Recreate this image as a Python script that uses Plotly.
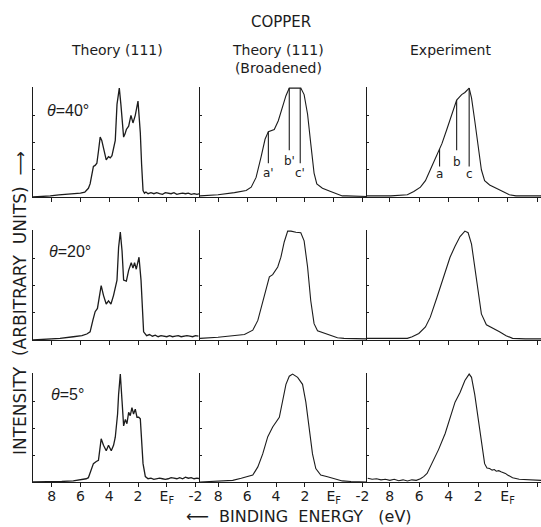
import plotly.graph_objects as go

# ---------------- data (binding energy in eV, intensity in arbitrary units) ----------------
# Row 1: theta = 40 deg
tl_energy = [9.3, 8.5, 8.1, 7.5, 7.0, 6.5, 6.0, 5.7, 5.45, 5.33, 5.10, 4.98, 4.86, 4.75, 4.63, 4.52, 4.40,
             4.21, 4.05, 3.93, 3.81, 3.70, 3.58, 3.46, 3.30, 3.19, 3.00, 2.90, 2.81, 2.65, 2.49, 2.35, 2.19,
             2.00, 1.84, 1.75, 1.65, 1.55, 1.45, 1.3, 1.1, 0.9, 0.7, 0.5, 0.3, 0.1, -0.1, -0.3, -0.5, -0.7,
             -0.9, -1.1, -1.3, -1.5, -1.7, -1.9, -2.1, -2.3]
tl_intensity = [0.0, 0.005, 0.01, 0.02, 0.025, 0.03, 0.035, 0.045, 0.08, 0.12, 0.28, 0.29, 0.31, 0.42, 0.55,
                0.52, 0.46, 0.34, 0.37, 0.36, 0.38, 0.44, 0.52, 0.85, 1.0, 0.85, 0.55, 0.58, 0.62, 0.65, 0.75,
                0.68, 0.75, 0.88, 0.59, 0.3, 0.06, 0.035, 0.045, 0.03, 0.04, 0.03, 0.04, 0.03, 0.025, 0.04,
                0.035, 0.03, 0.04, 0.025, 0.03, 0.035, 0.03, 0.035, 0.025, 0.03, 0.025, 0.03]

tm_energy = [9.27, 8.02, 6.88, 6.07, 5.72, 5.38, 5.03, 4.76, 4.53, 4.34, 4.12, 3.84, 3.54, 3.31, 3.08, 2.68,
             2.28, 2.05, 1.81, 1.59, 1.36, 1.17, 0.78, 0.21, -0.26, -0.6, -0.9, -1.5, -2.31]
tm_intensity = [0.01, 0.02, 0.04, 0.06, 0.09, 0.18, 0.37, 0.53, 0.60, 0.61, 0.62, 0.70, 0.82, 0.93, 1.0, 1.0,
                1.0, 0.94, 0.76, 0.49, 0.22, 0.12, 0.08, 0.05, 0.03, 0.01, 0.01, 0.005, 0.005]

tr_energy = [9.55, 7.93, 6.81, 6.37, 5.92, 5.58, 5.25, 4.91, 4.62, 4.46, 4.13, 3.79, 3.46, 3.12, 2.90, 2.61,
             2.45, 2.23, 2.01, 1.78, 1.56, 1.22, 0.77, 0.33, -0.12, -0.57, -1.2, -2.3]
tr_intensity = [0.01, 0.01, 0.02, 0.05, 0.09, 0.15, 0.25, 0.35, 0.44, 0.49, 0.62, 0.75, 0.89, 0.94, 0.96, 1.0,
                0.91, 0.70, 0.46, 0.25, 0.15, 0.11, 0.08, 0.05, 0.02, 0.01, 0.01, 0.01]

# Row 2: theta = 20 deg
ml_energy = [9.3, 8.5, 7.42, 6.5, 5.9, 5.56, 5.33, 5.14, 4.98, 4.82, 4.68, 4.56, 4.40, 4.21, 4.05, 3.88, 3.70,
             3.46, 3.35, 3.23, 3.11, 3.00, 2.81, 2.65, 2.47, 2.35, 2.24, 2.12, 1.93, 1.79, 1.61, 1.4, 1.2, 1.0,
             0.8, 0.6, 0.4, 0.2, 0.0, -0.2, -0.4, -0.6, -0.8, -1.0, -1.2, -1.4, -1.6, -1.8, -2.0, -2.2]
ml_intensity = [0.0, 0.005, 0.015, 0.03, 0.04, 0.055, 0.075, 0.18, 0.26, 0.29, 0.39, 0.5, 0.41, 0.33, 0.36,
                0.33, 0.41, 0.55, 0.85, 0.99, 0.82, 0.55, 0.54, 0.64, 0.71, 0.66, 0.71, 0.65, 0.76, 0.55, 0.075,
                0.04, 0.05, 0.035, 0.045, 0.03, 0.04, 0.035, 0.03, 0.04, 0.03, 0.035, 0.04, 0.03, 0.035, 0.04,
                0.035, 0.03, 0.04, 0.035]

mm_energy = [9.27, 8.02, 6.19, 5.61, 5.26, 4.92, 4.69, 4.46, 4.23, 3.88, 3.66, 3.43, 3.19, 2.96, 2.62, 2.28,
             2.05, 1.81, 1.59, 1.36, 1.12, 0.67, 0.21, -0.26, -0.72, -1.5, -2.31]
mm_intensity = [0.015, 0.025, 0.05, 0.09, 0.18, 0.36, 0.48, 0.58, 0.60, 0.67, 0.76, 0.9, 1.0, 1.0, 0.99, 0.985,
                0.91, 0.67, 0.36, 0.15, 0.085, 0.066, 0.045, 0.02, 0.015, 0.01, 0.01]

mr_energy = [9.55, 6.81, 6.48, 6.03, 5.58, 5.25, 4.80, 4.36, 3.91, 3.57, 3.23, 2.90, 2.68, 2.45, 2.23, 2.01,
             1.78, 1.44, 1.0, 0.55, 0.10, -0.34, -1.2, -2.3]
mr_intensity = [0.015, 0.015, 0.03, 0.06, 0.12, 0.21, 0.39, 0.58, 0.76, 0.86, 0.95, 1.0, 0.985, 0.88, 0.67,
                0.42, 0.24, 0.14, 0.11, 0.075, 0.04, 0.015, 0.01, 0.01]

# Row 3: theta = 5 deg
bl_energy = [9.3, 8.0, 7.3, 6.5, 6.0, 5.6, 5.45, 5.3, 5.10, 4.90, 4.75, 4.56, 4.40, 4.21, 4.05, 3.86, 3.70, 3.58,
             3.42, 3.35, 3.23, 3.11, 3.0, 2.88, 2.77, 2.65, 2.54, 2.42, 2.31, 2.19, 2.07, 1.95, 1.84, 1.65, 1.49,
             1.3, 1.1, 0.9, 0.7, 0.5, 0.3, 0.1, -0.1, -0.3, -0.5, -0.7, -0.9, -1.1, -1.3, -1.5, -1.7, -1.9,
             -2.1, -2.3]
bl_intensity = [0.0, 0.0, 0.005, 0.01, 0.02, 0.03, 0.04, 0.1, 0.17, 0.19, 0.2, 0.4, 0.34, 0.29, 0.34, 0.29,
                0.34, 0.415, 0.63, 0.81, 1.0, 0.75, 0.52, 0.58, 0.54, 0.645, 0.615, 0.69, 0.63, 0.675, 0.6, 0.6,
                0.585, 0.17, 0.05, 0.03, 0.035, 0.025, 0.03, 0.035, 0.03, 0.025, 0.03, 0.04, 0.035, 0.03, 0.04,
                0.03, 0.045, 0.035, 0.04, 0.03, 0.035, 0.03]

bm_energy = [9.27, 8.0, 7.0, 6.41, 5.61, 5.26, 4.92, 4.57, 4.23, 3.77, 3.54, 3.31, 3.08, 2.85, 2.50, 2.16, 1.93,
             1.70, 1.47, 1.24, 0.90, 0.43, -0.14, -0.6, -1.2, -2.31]
bm_intensity = [0.0, 0.005, 0.015, 0.034, 0.064, 0.14, 0.26, 0.42, 0.51, 0.60, 0.74, 0.905, 0.98, 1.0, 0.97,
                0.905, 0.74, 0.51, 0.26, 0.125, 0.064, 0.048, 0.028, 0.01, 0.005, 0.0]

br_energy = [9.5, 9.2, 8.9, 8.6, 8.3, 8.0, 7.7, 7.4, 7.1, 6.8, 6.5, 6.2, 5.92, 5.7, 5.47, 5.25, 5.03, 4.69,
             4.24, 3.79, 3.57, 3.23, 2.90, 2.61, 2.45, 2.23, 2.01, 1.78, 1.56, 1.40, 1.22, 1.05, 0.9, 0.77, 0.6,
             0.45, 0.33, 0.15, 0.0, -0.34, -0.79, -1.46, -2.3]
br_intensity = [0.035, 0.025, 0.03, 0.02, 0.025, 0.015, 0.025, 0.012, 0.02, 0.01, 0.02, 0.015, 0.03, 0.05,
                0.08, 0.14, 0.21, 0.30, 0.45, 0.66, 0.74, 0.83, 0.94, 1.0, 0.97, 0.81, 0.60, 0.355, 0.17, 0.13,
                0.125, 0.11, 0.115, 0.10, 0.105, 0.095, 0.09, 0.08, 0.065, 0.04, 0.025, 0.02, 0.015]

# Peak markers (energies, curve heights at those energies, labels)
tm_mark_energy = [4.53, 3.08, 2.32]
tm_mark_height = [0.60, 1.0, 1.0]
tm_mark_labels = ["a'", "b'", "c'"]
tr_mark_energy = [4.62, 3.46, 2.61]
tr_mark_height = [0.44, 0.89, 1.0]
tr_mark_labels = ["a", "b", "c"]

angle_labels = ["<i>θ</i>=40°", "<i>θ</i>=20°", "<i>θ</i>=5°"]
column_titles = ["Theory (111)", "Theory (111)<br>(Broadened)", "Experiment"]
tick_values = [8, 6, 4, 2, 0, -2]
tick_labels = ["8", "6", "4", "2", "E<sub>F</sub>", "-2"]

# ---------------- layout geometry ----------------
W, H = 541, 527
FONT = "DejaVu Sans"
INK = "#1c1c1c"


def fx(px):
    return px / W


def fy(py):
    return 1 - py / H


col_px = [(33, 200), (200, 367), (367, 541)]
col_range = [(9.30, -2.31), (9.27, -2.31), (9.55, -2.27)]
row_px = [(87, 197), (230, 340), (373, 482)]

panels = [
    [(tl_energy, tl_intensity), (tm_energy, tm_intensity), (tr_energy, tr_intensity)],
    [(ml_energy, ml_intensity), (mm_energy, mm_intensity), (mr_energy, mr_intensity)],
    [(bl_energy, bl_intensity), (bm_energy, bm_intensity), (br_energy, br_intensity)],
]

fig = go.Figure()
layout = {}
for r in range(3):
    for c in range(3):
        idx = r * 3 + c + 1
        xname = "x" if idx == 1 else f"x{idx}"
        yname = "y" if idx == 1 else f"y{idx}"
        xkey = "xaxis" if idx == 1 else f"xaxis{idx}"
        ykey = "yaxis" if idx == 1 else f"yaxis{idx}"
        x0, x1 = col_px[c]
        y0, y1 = row_px[r]
        layout[xkey] = dict(
            domain=[fx(x0), fx(x1)], range=list(col_range[c]), anchor=yname,
            showline=True, linecolor=INK, linewidth=1.4, mirror=False,
            ticks="outside", ticklen=4, tickwidth=1.2, tickcolor=INK,
            tickvals=tick_values, ticktext=tick_labels, ticklabelstandoff=-3,
            showticklabels=(r == 2), tickfont=dict(family=FONT, size=14, color=INK),
            showgrid=False, zeroline=False, fixedrange=True, automargin=False,
        )
        layout[ykey] = dict(
            domain=[fy(y1), fy(y0)], range=[0, 1.01], anchor=xname,
            showline=True, linecolor=INK, linewidth=1.4,
            ticks="inside", ticklen=2, tickwidth=1, tickcolor=INK,
            tickvals=[0.25, 0.5, 0.75], showticklabels=False,
            showgrid=False, zeroline=False, fixedrange=True, automargin=False,
        )
        e, i = panels[r][c]
        fig.add_trace(go.Scatter(
            x=e, y=i, mode="lines", xaxis=xname, yaxis=yname,
            line=dict(color=INK, width=1.3 if c == 0 else 1.1), showlegend=False, hoverinfo="skip",
        ))

# peak marker lines and letters
annotations = []
for (energies, heights, labels, xn, yn, lows, label_y) in [
    (tm_mark_energy, tm_mark_height, tm_mark_labels, "x2", "y2", [0.31, 0.43, 0.31], [0.22, 0.33, 0.22]),
    (tr_mark_energy, tr_mark_height, tr_mark_labels, "x3", "y3", [0.28, 0.43, 0.28], [0.21, 0.32, 0.21]),
]:
    for e, h, lab, lo, ly in zip(energies, heights, labels, lows, label_y):
        fig.add_trace(go.Scatter(x=[e, e], y=[h, lo], mode="lines", xaxis=xn, yaxis=yn,
                                 line=dict(color=INK, width=1.1), showlegend=False, hoverinfo="skip"))
        annotations.append(dict(x=e, y=ly, xref=xn, yref=yn, text=lab, showarrow=False,
                                xanchor="center", yanchor="middle",
                                font=dict(family=FONT, size=12, color=INK)))

# angle labels
for r, (lab, px) in enumerate(zip(angle_labels, [45, 47, 49])):
    py = [110, 251, 394][r]
    annotations.append(dict(x=fx(px), y=fy(py), xref="paper", yref="paper", text=lab, showarrow=False,
                            xanchor="left", yanchor="middle",
                            font=dict(family="Liberation Sans", size=16, color=INK)))

# titles
annotations.append(dict(x=fx(281), y=fy(22), xref="paper", yref="paper", text="COPPER", showarrow=False,
                        xanchor="center", yanchor="middle", font=dict(family=FONT, size=15, color=INK)))
for px, t in zip([117, 278, 450], column_titles):
    annotations.append(dict(x=fx(px), y=fy(40), xref="paper", yref="paper", text=t, showarrow=False,
                            xanchor="center", yanchor="top", font=dict(family=FONT, size=14, color=INK)))

# axis titles
annotations.append(dict(x=fx(299), y=fy(516), xref="paper", yref="paper",
                        text="⟵  BINDING  ENERGY   (eV)", showarrow=False,
                        xanchor="center", yanchor="middle",
                        font=dict(family=FONT, size=16, color=INK)))
annotations.append(dict(x=fx(20), y=fy(303), xref="paper", yref="paper", textangle=-90,
                        text="INTENSITY  (ARBITRARY  UNITS)  ⟶", showarrow=False,
                        xanchor="center", yanchor="middle",
                        font=dict(family=FONT, size=17, color=INK)))

layout.update(dict(
    width=W, height=H, margin=dict(l=0, r=0, t=0, b=0, autoexpand=False),
    paper_bgcolor="white", plot_bgcolor="white", showlegend=False,
    annotations=annotations,
))
fig.update_layout(**layout)
fig.write_html("out.html")
